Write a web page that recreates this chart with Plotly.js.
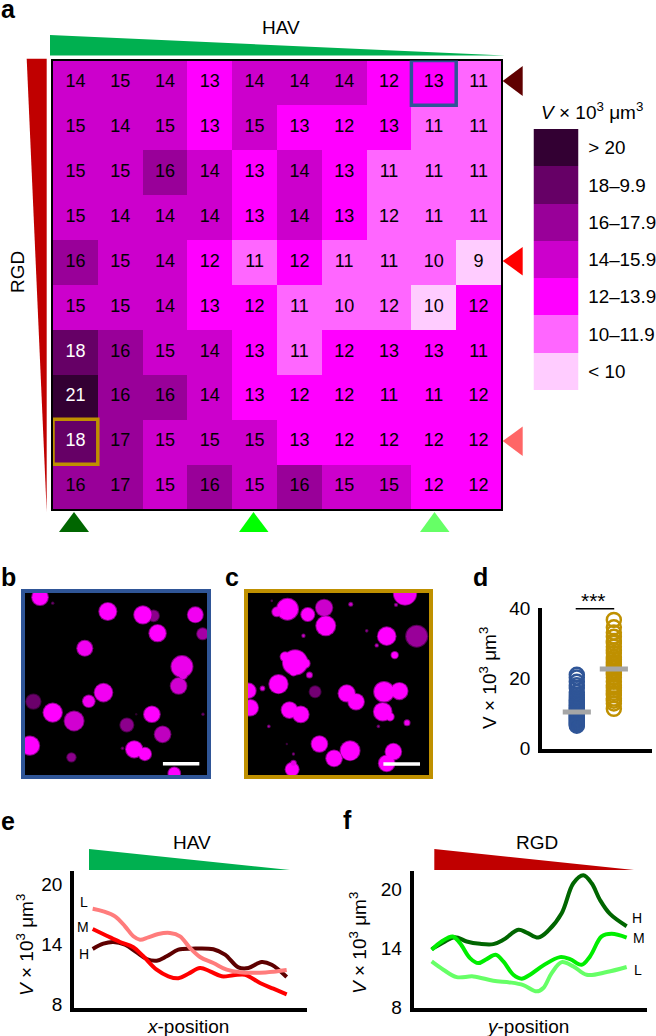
<!DOCTYPE html>
<html>
<head>
<meta charset="utf-8">
<script src="https://cdn.plot.ly/plotly-3.0.1.min.js"></script>
<style>
  html, body { margin: 0; padding: 0; background: #fff; }
  #fig { width: 656px; height: 1036px; }
</style>
</head>
<body>
<div id="fig"></div>
<script>
// panel a: numbers printed in the cells, top row first
var cellLabels = [
  [14, 15, 14, 13, 14, 14, 14, 12, 13, 11],
  [15, 14, 15, 13, 15, 13, 12, 13, 11, 11],
  [15, 15, 16, 14, 13, 14, 13, 11, 11, 11],
  [15, 14, 14, 14, 13, 14, 13, 12, 11, 11],
  [16, 15, 14, 12, 11, 12, 11, 11, 10, 9],
  [15, 15, 14, 13, 12, 11, 10, 12, 10, 12],
  [18, 16, 15, 14, 13, 11, 12, 13, 13, 11],
  [21, 16, 16, 14, 13, 12, 12, 11, 11, 12],
  [18, 17, 15, 15, 15, 13, 12, 12, 12, 12],
  [16, 17, 15, 16, 15, 16, 15, 15, 12, 12]
];
// colour class of each cell (0 = "< 10" ... 6 = "> 20"), the printed numbers are rounded
var cellBins = [
  [3, 3, 3, 2, 3, 3, 3, 2, 2, 1],
  [3, 3, 3, 2, 3, 2, 2, 2, 1, 1],
  [3, 3, 4, 3, 2, 3, 2, 1, 1, 1],
  [3, 3, 3, 3, 2, 3, 2, 1, 1, 1],
  [4, 3, 3, 2, 1, 2, 1, 1, 1, 0],
  [3, 3, 3, 2, 2, 1, 1, 1, 0, 2],
  [5, 4, 3, 3, 2, 1, 2, 2, 2, 2],
  [6, 4, 4, 3, 2, 2, 2, 2, 2, 2],
  [5, 4, 3, 3, 3, 2, 2, 2, 2, 2],
  [4, 4, 3, 4, 3, 4, 3, 3, 2, 2]
];
var binColors = ["#ffccff", "#ff66ff", "#ff00ff", "#cc00cc", "#990099", "#660066", "#330033"];
var binLabels = ["< 10", "10–11.9", "12–13.9", "14–15.9", "16–17.9", "18–9.9", "> 20"];

// panel b: blobs in image coordinates, diameter and brightness
var blobXB = [120, 323, 460, 428, 585, 472, 607, 254, 545, 548, 535, 100, 310, 266, 158, 222, 380, 455, 487, 90, 402, 434, 214, 522, 158, 367, 608, 408];
var blobYB = [112, 155, 168, 165, 165, 220, 222, 265, 320, 345, 378, 425, 398, 424, 458, 483, 495, 463, 523, 557, 568, 582, 592, 640, 130, 565, 463, 463];
var blobDB = [50, 54, 35, 55, 48, 52, 36, 48, 66, 28, 50, 46, 56, 38, 58, 60, 42, 50, 50, 58, 52, 40, 28, 38, 7, 8, 7, 4];
var blobIB = [1, 1, 0.55, 1, 0.95, 1, 0.65, 0.95, 0.92, 0.9, 0.82, 0.42, 0.95, 0.95, 1, 0.82, 0.55, 1, 0.75, 1, 1, 1, 0.55, 1, 0.5, 0.5, 0.5, 0.3];

// panel c
var blobXC = [172, 140, 233, 282, 287, 525, 470, 560, 494, 195, 165, 225, 190, 238, 145, 55, 60, 97, 255, 350, 378, 462, 508, 458, 480, 531, 178, 212, 268, 360, 312, 490, 470, 186, 190, 362, 498, 220, 410, 440, 116, 445, 190, 170, 125];
var blobYC = [147, 155, 163, 143, 197, 100, 228, 228, 285, 307, 290, 310, 335, 345, 372, 392, 443, 385, 395, 400, 425, 395, 393, 455, 470, 488, 450, 463, 552, 572, 595, 575, 610, 628, 610, 132, 134, 227, 212, 256, 499, 499, 582, 552, 122];
var blobDC = [66, 30, 42, 52, 60, 70, 56, 66, 22, 76, 30, 30, 25, 18, 58, 46, 50, 14, 36, 52, 50, 62, 52, 56, 25, 18, 50, 50, 50, 60, 50, 50, 50, 42, 18, 12, 10, 10, 8, 10, 8, 8, 7, 4, 5];
var blobIC = [1, 0.95, 1, 0.8, 1, 0.95, 1, 0.6, 1, 1, 1, 1, 1, 0.9, 1, 1, 1, 0.9, 0.45, 1, 1, 1, 1, 1, 1, 0.95, 1, 1, 1, 1, 1, 1, 1, 1, 0.9, 0.8, 0.7, 0.8, 0.6, 0.8, 0.7, 0.6, 0.6, 0.4, 0.5];

// panel d
var dValuesBlue = [21, 20.2, 19, 18, 17.2, 16, 15.2, 14.6, 14, 13.5, 13, 12.6, 12.2, 11.8, 11.4, 11, 10.6, 10.2, 9.8, 9.5, 9.2, 8.9, 8.6, 8.3, 8, 7.7, 7.4, 7.1, 6.8, 6.5];
var dValuesGold = [36.6, 34.5, 33, 31.8, 30.6, 30, 29, 28, 27.2, 26, 25.4, 24.6, 24, 23.4, 22.8, 22.2, 21.6, 21, 20.2, 19, 18, 17.3, 16.5, 15.8, 15.2, 14.2, 13.6, 12.8, 11.3];
var dMeanBlue = 10.4;
var dMeanGold = 22.6;

// panel e
var eXL = [278, 310, 345, 375, 400, 420, 445, 475, 510, 540, 570, 600, 640, 680, 720, 780, 820, 860];
var eYL = [17.53, 17.27, 16.77, 15.77, 14.77, 14.43, 14.67, 15.0, 15.1, 14.77, 13.6, 12.7, 12.1, 11.43, 11.17, 11.13, 11.23, 11.4];
var eXM = [278, 320, 360, 400, 430, 470, 505, 535, 565, 600, 630, 665, 700, 735, 780, 820, 860];
var eYM = [15.5, 14.83, 14.2, 13.67, 12.77, 11.43, 10.77, 10.57, 11.03, 11.6, 11.27, 10.77, 10.87, 10.93, 10.1, 9.53, 8.97];
var eXH = [278, 310, 340, 375, 410, 440, 470, 500, 535, 575, 640, 675, 715, 745, 785, 815, 860];
var eYH = [13.5, 14.03, 14.2, 13.93, 13.17, 12.5, 12.33, 12.77, 13.43, 13.53, 13.47, 12.93, 11.67, 11.6, 12.2, 11.93, 10.7];

// panel f
var fXH = [305, 340, 375, 410, 450, 490, 520, 565, 590, 625, 655, 695, 730, 760, 785, 810, 840, 890];
var fYH = [13.91, 14.59, 15.13, 14.69, 14.45, 14.42, 14.86, 15.87, 15.6, 15.09, 15.8, 17.56, 20.6, 21.41, 20.6, 18.91, 17.49, 16.24];
var fXM = [305, 335, 368, 390, 420, 445, 470, 497, 520, 550, 575, 600, 640, 690, 720, 755, 780, 815, 845, 890];
var fYM = [13.84, 14.69, 15.2, 14.52, 13, 12.49, 12.9, 13.34, 12.66, 11.31, 10.91, 11.31, 12.26, 13.1, 12.9, 12.32, 13.17, 15.2, 15.47, 15.09];
var fXL = [305, 340, 380, 430, 490, 540, 580, 620, 640, 665, 695, 730, 770, 830, 890];
var fYL = [12.66, 11.82, 11.07, 11.14, 10.7, 10.53, 10.26, 9.62, 9.96, 11.48, 12.59, 12.16, 11.31, 11.58, 12.09];

var W = 656, H = 1036;
var FONT = "Liberation Sans, Arial, sans-serif";
var BLUE = "#2f5597", GOLD = "#bf9000";
var VOL = "V × 10<sup>3</sup> μm<sup>3</sup>";
var VOL_I = "<i>V</i> × 10<sup>3</sup> μm<sup>3</sup>";

function domX(l, r) { return [l / W, r / W]; }
function domY(t, b) { return [1 - b / H, 1 - t / H]; }
function fx(px) { return px / W; }
function fy(py) { return 1 - py / H; }

function label(text, px, py, size, extra) {
  return Object.assign({
    text: text, xref: "paper", yref: "paper", x: fx(px), y: fy(py),
    xanchor: "center", yanchor: "middle", showarrow: false,
    font: { family: FONT, size: size, color: "#000" }
  }, extra || {});
}

function panelLetter(text, px, py) {
  return label("<b>" + text + "</b>", px, py, 25);
}

function poly(points, color) {
  var d = points.map(function (p, i) {
    return (i ? "L" : "M") + fx(p[0]) + " " + fy(p[1]);
  }).join(" ") + " Z";
  return { type: "path", xref: "paper", yref: "paper", path: d, fillcolor: color, line: { width: 0 } };
}

function blackBack(n) {
  return {
    type: "rect", xref: "x" + n + " domain", yref: "y" + n + " domain", x0: 0, x1: 1, y0: 0, y1: 1,
    fillcolor: "#000", line: { width: 0 }, layer: "below"
  };
}

function cellBox(col, row, color) {
  return {
    type: "rect", xref: "x", yref: "y", x0: col - 0.5, x1: col + 0.5, y0: row - 0.5, y1: row + 0.5,
    fillcolor: "rgba(0,0,0,0)", line: { color: color, width: 3.5 }
  };
}

var stepScale = [];
binColors.forEach(function (c, i) {
  stepScale.push([i / 7, c], [(i + 1) / 7, c]);
});
var blobScale = [[0, "#000000"], [1, "#ff00ff"]];

// halo first so blobs that touch merge instead of showing dark rims
function blobTrace(xs, ys, ds, is, n, grow, dim) {
  return {
    type: "scatter", mode: "markers", x: xs, y: ys, xaxis: "x" + n, yaxis: "y" + n,
    marker: {
      size: ds.map(function (d) { return d / 3 + grow; }),
      color: is.map(function (v) { return v * dim; }),
      colorscale: blobScale, cmin: 0, cmax: 1, opacity: 1, line: { width: 0 }
    }
  };
}

function curve(xs, ys, color, n) {
  return {
    type: "scatter", mode: "lines", x: xs, y: ys, xaxis: "x" + n, yaxis: "y" + n,
    line: { color: color, width: 4, shape: "spline", smoothing: 1 }
  };
}

function ringTrace(vals, pos, color) {
  return {
    type: "scatter", mode: "markers", xaxis: "x5", yaxis: "y5",
    x: vals.map(function () { return pos; }), y: vals,
    marker: { symbol: "circle-open", size: 14, color: color, line: { width: 2.5, color: color } }
  };
}

function meanTrace(mean, pos) {
  return {
    type: "scatter", mode: "lines", xaxis: "x5", yaxis: "y5",
    x: [pos - 0.38, pos + 0.38], y: [mean, mean],
    line: { color: "#a6a6a6", width: 5 }
  };
}

// flatten the labels so each one can get its own colour
var textX = [], textY = [], textS = [], textC = [];
cellLabels.forEach(function (row, r) {
  row.forEach(function (v, c) {
    textX.push(c);
    textY.push(r);
    textS.push(String(v));
    textC.push(cellBins[r][c] >= 5 ? "#fff" : "#000");
  });
});

var traces = [
  {
    type: "heatmap", z: cellBins, xaxis: "x", yaxis: "y", zmin: -0.5, zmax: 6.5,
    colorscale: stepScale, showscale: false, xgap: 0, ygap: 0
  },
  {
    type: "scatter", mode: "text", x: textX, y: textY, text: textS, xaxis: "x", yaxis: "y",
    textposition: "middle center", textfont: { family: FONT, size: 18, color: textC }
  },
  {
    type: "heatmap", z: binColors.map(function (c, i) { return [i]; }), xaxis: "x2", yaxis: "y2",
    zmin: -0.5, zmax: 6.5, colorscale: stepScale, showscale: false
  },
  blobTrace(blobXB, blobYB, blobDB, blobIB, 3, 1, 0.55),
  blobTrace(blobXB, blobYB, blobDB, blobIB, 3, -1, 1),
  {
    type: "scatter", mode: "lines", x: [488, 597], y: [611, 611], xaxis: "x3", yaxis: "y3",
    line: { color: "#fff", width: 3.5 }
  },
  blobTrace(blobXC, blobYC, blobDC, blobIC, 4, 1, 0.55),
  blobTrace(blobXC, blobYC, blobDC, blobIC, 4, -1, 1),
  {
    type: "scatter", mode: "lines", x: [460, 570], y: [612, 612], xaxis: "x4", yaxis: "y4",
    line: { color: "#fff", width: 3.5 }
  },
  ringTrace(dValuesBlue, 1, BLUE),
  ringTrace(dValuesGold, 2, GOLD),
  meanTrace(dMeanBlue, 1),
  meanTrace(dMeanGold, 2),
  {
    type: "scatter", mode: "lines", x: [0.97, 2.01], y: [40, 40], xaxis: "x5", yaxis: "y5",
    cliponaxis: false, line: { color: "#000", width: 3 }
  },
  curve(eXH, eYH, "#5e0000", 6),
  curve(eXM, eYM, "#ff0000", 6),
  curve(eXL, eYL, "#ff7c7c", 6),
  curve(fXL, fYL, "#66ff66", 7),
  curve(fXH, fYH, "#006600", 7),
  curve(fXM, fYM, "#00ee00", 7)
];

var hidden = { showgrid: false, zeroline: false, showticklabels: false, ticks: "", showline: false };

function framed(dom, range, color, mate) {
  return Object.assign({}, hidden, {
    domain: dom, range: range, showline: true, mirror: true, linecolor: color, linewidth: 4, anchor: mate
  });
}

function plainX(dom, range, mate) {
  return Object.assign({}, hidden, {
    domain: dom, range: range, showline: true, linecolor: "#000", linewidth: 3.5, anchor: mate
  });
}

function plainY(dom, range, ticks, mate) {
  return {
    domain: dom, range: range, anchor: mate, showgrid: false, zeroline: false, showline: true,
    linecolor: "#000", linewidth: 3.5, tickmode: "array", tickvals: ticks,
    ticks: "outside", ticklen: 4, tickcolor: "rgba(0,0,0,0)",
    tickfont: { family: FONT, size: 19, color: "#000" }
  };
}

var layout = {
  width: W, height: H, margin: { l: 0, r: 0, t: 0, b: 0, pad: 0 },
  paper_bgcolor: "#fff", plot_bgcolor: "rgba(0,0,0,0)", showlegend: false,
  font: { family: FONT, color: "#000" },

  // a, heat map
  xaxis: Object.assign({}, hidden, {
    domain: domX(53, 501), range: [-0.5, 9.5], showline: true, mirror: true, linecolor: "#000", linewidth: 2
  }),
  yaxis: Object.assign({}, hidden, {
    domain: domY(60.5, 509), range: [9.5, -0.5], showline: true, mirror: true, linecolor: "#000", linewidth: 2
  }),

  // a, legend
  xaxis2: Object.assign({}, hidden, { domain: domX(533.5, 578.5), range: [-0.5, 0.5], anchor: "y2" }),
  yaxis2: {
    domain: domY(129, 390), range: [-0.5, 6.5], side: "right", anchor: "x2",
    showgrid: false, zeroline: false, showline: false, tickmode: "array",
    tickvals: binLabels.map(function (s, i) { return i; }), ticktext: binLabels,
    ticks: "outside", ticklen: 5, tickcolor: "rgba(0,0,0,0)",
    tickfont: { family: FONT, size: 18.8, color: "#000" }
  },

  // b and c, micrographs
  xaxis3: framed(domX(25, 207), [75, 620], BLUE, "y3"),
  yaxis3: framed(domY(592.5, 775), [645, 98], BLUE, "x3"),
  xaxis4: framed(domX(247.5, 429), [52, 597], GOLD, "y4"),
  yaxis4: framed(domY(592.5, 775), [645, 97], GOLD, "x4"),

  // d
  xaxis5: plainX(domX(542, 652), [0.06, 3.03], "y5"),
  yaxis5: plainY(domY(608, 748.5), [0, 40], [0, 20, 40], "x5"),

  // e
  xaxis6: plainX(domX(74, 306.7), [222, 920], "y6"),
  yaxis6: plainY(domY(871, 1007.5), [7.65, 21.3], [8, 14, 20], "x6"),

  // f
  xaxis7: plainX(domX(413.5, 647), [250.5, 951], "y7"),
  yaxis7: plainY(domY(871, 1007.5), [7.98, 21.85], [8, 14, 20], "x7"),

  shapes: [
    blackBack(3),
    blackBack(4),
    cellBox(8, 0, BLUE),
    cellBox(0, 8, GOLD),
    // gradient wedges
    poly([[50, 35], [50, 55.5], [505, 55.5]], "#00b050"),
    poly([[26.7, 58.7], [46.7, 58.7], [46.7, 512]], "#c00000"),
    poly([[89, 849], [89, 870], [290, 870]], "#00b050"),
    poly([[434.3, 849], [434.3, 870], [634, 870]], "#c00000"),
    // position markers
    poly([[502.7, 81], [522.7, 66], [522.7, 96]], "#600000"),
    poly([[502.7, 261], [522.7, 247], [522.7, 275.5]], "#ff0000"),
    poly([[502.7, 441], [522.7, 426.5], [522.7, 456]], "#ff6666"),
    poly([[74, 512], [59, 532], [89, 532]], "#006600"),
    poly([[253.5, 512], [239, 532], [268.5, 532]], "#00ff00"),
    poly([[434.5, 512], [420, 532], [449.5, 532]], "#66ff66")
  ],

  annotations: [
    panelLetter("a", 8, 9),
    panelLetter("b", 8, 577),
    panelLetter("c", 232, 577),
    panelLetter("d", 480, 577),
    panelLetter("e", 8, 821),
    panelLetter("f", 347, 820),
    label("HAV", 281, 27, 19),
    label("RGD", 18, 272, 19, { textangle: -90 }),
    label(VOL_I, 592, 111, 19),
    label("***", 593, 600, 21),
    label(VOL, 488, 678, 19, { textangle: -90 }),
    label("HAV", 192, 842, 19),
    label("L", 84, 902, 14),
    label("M", 83, 927, 14),
    label("H", 84, 954, 14),
    label(VOL_I, 25, 945, 19, { textangle: -90 }),
    label("<i>x</i>-position", 188, 1026, 19),
    label("RGD", 537, 842, 19),
    label("H", 637, 918, 14),
    label("M", 639, 938, 14),
    label("L", 638, 970, 14),
    label(VOL_I, 358, 943, 19, { textangle: -90 }),
    label("<i>y</i>-position", 527, 1026, 19)
  ]
};

Plotly.newPlot("fig", traces, layout, { displayModeBar: false, responsive: false });
</script>
</body>
</html>
